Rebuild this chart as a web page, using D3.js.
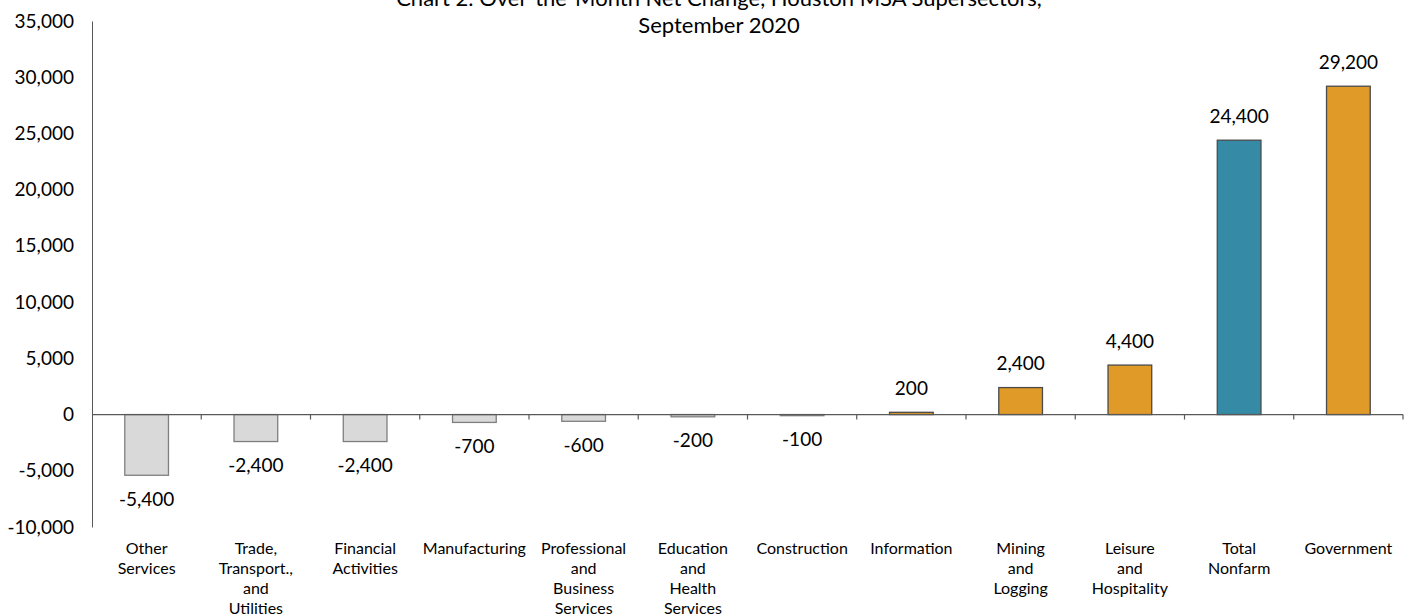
<!DOCTYPE html>
<html>
<head>
<meta charset="utf-8">
<script src="https://cdn.jsdelivr.net/npm/d3@7"></script>
<style>
  html, body { margin: 0; padding: 0; background: #fff; }
  svg { display: block; font-family: Lato, "Noto Sans", sans-serif; }
</style>
</head>
<body>
<svg id="chart" width="1417" height="616"></svg>
<script>
// Houston MSA supersectors, over-the-month net change, September 2020
const categories = [
  ["Other", "Services"],
  ["Trade,", "Transport.,", "and", "Utilities"],
  ["Financial", "Activities"],
  ["Manufacturing"],
  ["Professional", "and", "Business", "Services"],
  ["Education", "and", "Health", "Services"],
  ["Construction"],
  ["Information"],
  ["Mining", "and", "Logging"],
  ["Leisure", "and", "Hospitality"],
  ["Total", "Nonfarm"],
  ["Government"]
];
const values = [-5400, -2400, -2400, -700, -600, -200, -100, 200, 2400, 4400, 24400, 29200];
const totalIndex = 10;
const yTicks = [-10000, -5000, 0, 5000, 10000, 15000, 20000, 25000, 30000, 35000];
const titleLines = ["Chart 2. Over-the-Month Net Change, Houston MSA Supersectors,", "September 2020"];

const svg = d3.select("#chart");
const plotLeft = 92, plotRight = 1403, plotTop = 21, plotBottom = 527;

const x = d3.scaleBand()
  .domain(d3.range(categories.length))
  .range([plotLeft, plotRight])
  .paddingInner(0.6)
  .paddingOuter(0.3);

const y = d3.scaleLinear().domain([-10000, 35000]).range([plotBottom, plotTop]);
// thousands separator with a plain hyphen for negatives
const fmt = d3.formatLocale({ decimal: ".", thousands: ",", grouping: [3], currency: ["$", ""], minus: "-" }).format(",");

// title
const title = svg.append("text")
  .attr("x", 719)
  .attr("text-anchor", "middle")
  .attr("font-size", 22)
  .attr("fill", "#000");
titleLines.forEach((t, i) => {
  title.append("tspan").attr("x", 719).attr("y", 6 + i * 27).text(t);
});

// y axis
const yAxis = svg.append("g")
  .attr("transform", `translate(${plotLeft},0)`)
  .call(d3.axisLeft(y).tickValues(yTicks).tickSize(0).tickPadding(18).tickFormat(fmt));
yAxis.select(".domain").attr("stroke", "#595959");
yAxis.selectAll(".tick text").attr("font-size", 19).attr("fill", "#000")
  .attr("font-family", "Lato, 'Noto Sans', sans-serif");

// bars
const colour = (v, i) => i === totalIndex ? "#358ba6" : (v < 0 ? "#d9d9d9" : "#e09a28");
const strokeColour = (v, i) => v < 0 ? "#7f7f7f" : "#4a4a4a";

svg.append("g").selectAll("rect")
  .data(values)
  .join("rect")
  .attr("x", (d, i) => x(i))
  .attr("width", x.bandwidth())
  .attr("y", d => y(Math.max(0, d)))
  .attr("height", d => Math.abs(y(d) - y(0)))
  .attr("fill", (d, i) => colour(d, i))
  .attr("stroke", (d, i) => strokeColour(d, i))
  .attr("stroke-width", 1.3);

// zero line with category ticks between bands
const step = x.step();
const xAxisG = svg.append("g");
xAxisG.append("line")
  .attr("x1", plotLeft).attr("x2", plotRight)
  .attr("y1", y(0)).attr("y2", y(0))
  .attr("stroke", "#595959").attr("stroke-width", 1.3);
xAxisG.selectAll("line.tick")
  .data(d3.range(1, categories.length + 1))
  .join("line")
  .attr("class", "tick")
  .attr("x1", i => plotLeft + i * step).attr("x2", i => plotLeft + i * step)
  .attr("y1", y(0)).attr("y2", y(0) + 5)
  .attr("stroke", "#595959").attr("stroke-width", 1.2);

// value labels
svg.append("g").selectAll("text")
  .data(values)
  .join("text")
  .attr("x", (d, i) => x(i) + x.bandwidth() / 2)
  .attr("y", d => d < 0 ? y(d) + 24 : y(d) - 24)
  .attr("dy", "0.35em")
  .attr("text-anchor", "middle")
  .attr("font-size", 19)
  .attr("fill", "#000")
  .text(d => fmt(d));

// category labels
const catG = svg.append("g").selectAll("text")
  .data(categories)
  .join("text")
  .attr("text-anchor", "middle")
  .attr("font-size", 16)
  .attr("fill", "#000");
catG.each(function(lines, i) {
  const cx = x(i) + x.bandwidth() / 2;
  d3.select(this).selectAll("tspan")
    .data(lines)
    .join("tspan")
    .attr("x", cx)
    .attr("y", (l, j) => 554 + j * 20)
    .text(l => l);
});
</script>
</body>
</html>
